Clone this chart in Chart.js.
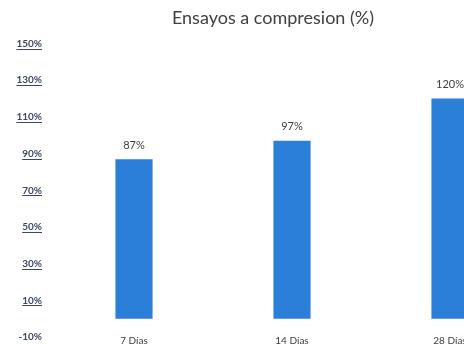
<!DOCTYPE html>
<html>
<head>
<meta charset="utf-8">
<script src="https://cdn.jsdelivr.net/npm/chart.js@4"></script>
<style>
  html, body { margin: 0; padding: 0; background: #fff; overflow: hidden; }
  #wrap { width: 529px; height: 356px; position: relative; }
</style>
</head>
<body>
<div id="wrap"><canvas id="ensayos-chart"></canvas></div>
<script>
const ctx = document.getElementById('ensayos-chart');

var labels = ['7 Días', '14 Días', '28 Días'];
var values = [87, 97, 120];

// navy grey used for the y axis text
const tickColor = '#3d4763';

// percentage labels on top of each bar
const barLabels = {
    id: 'barLabels',
    afterDatasetsDraw(chart) {
        const c = chart.ctx;
        const meta = chart.getDatasetMeta(0);
        c.save();
        c.font = '11px Lato';
        c.fillStyle = '#404040';
        c.textAlign = 'center';
        c.textBaseline = 'middle';
        meta.data.forEach((bar, i) => {
            c.fillText(values[i] + '%', bar.x, bar.y - 14);
        });
        c.restore();
    }
};

// thin rule under each y tick label
const tickRules = {
    id: 'tickRules',
    afterDraw(chart) {
        const y = chart.scales.y;
        const c = chart.ctx;
        c.save();
        c.strokeStyle = tickColor;
        c.lineWidth = 1;
        c.font = 'bold 10px Lato';
        y.ticks.forEach((t) => {
            if (t.value < 0) return;
            const py = Math.round(y.getPixelForValue(t.value)) + 5.5;
            const w = c.measureText(t.value + '%').width;
            c.beginPath();
            c.moveTo(42 - w, py);
            c.lineTo(42, py);
            c.stroke();
        });
        c.restore();
    }
};

const data = {
    labels: labels,
    datasets: [
      {
        label: 'Ensayos a compresion (%)',
        data: values,
        backgroundColor: '#2b7fd8',
        borderWidth: 0,
        categoryPercentage: 1,
        barPercentage: 0.235
      }
    ]
};

const config = {
    type: 'bar',
    data: data,
    plugins: [barLabels, tickRules],
    options: {
      responsive: true,
      maintainAspectRatio: false,
      animation: false,
      layout: { padding: { left: 17, right: 0, top: 0, bottom: 0 } },
      scales: {
        x: {
          grid: { display: false, drawTicks: false },
          border: { display: false },
          ticks: { color: '#404040', font: { family: 'Lato', size: 10 }, padding: -2, maxRotation: 0 },
          afterFit: (s) => { s.height = 12; }
        },
        y: {
          min: -10,
          max: 150,
          grid: { display: false, drawTicks: false },
          border: { display: false },
          ticks: {
            stepSize: 20,
            padding: 13,
            color: tickColor,
            font: { family: 'Lato', size: 10, weight: 'bold' },
            callback: (v) => v + '%'
          },
          afterFit: (s) => { s.width = 38; }
        }
      },
      plugins: {
        legend: { display: false },
        tooltip: { enabled: false },
        title: {
          display: true,
          text: 'Ensayos a compresion (%)',
          color: '#404040',
          font: { family: 'Lato', size: 18, weight: 'normal' },
          padding: { top: 7, bottom: 15 }
        }
      }
    }
};

new Chart(ctx, config);
</script>
</body>
</html>
